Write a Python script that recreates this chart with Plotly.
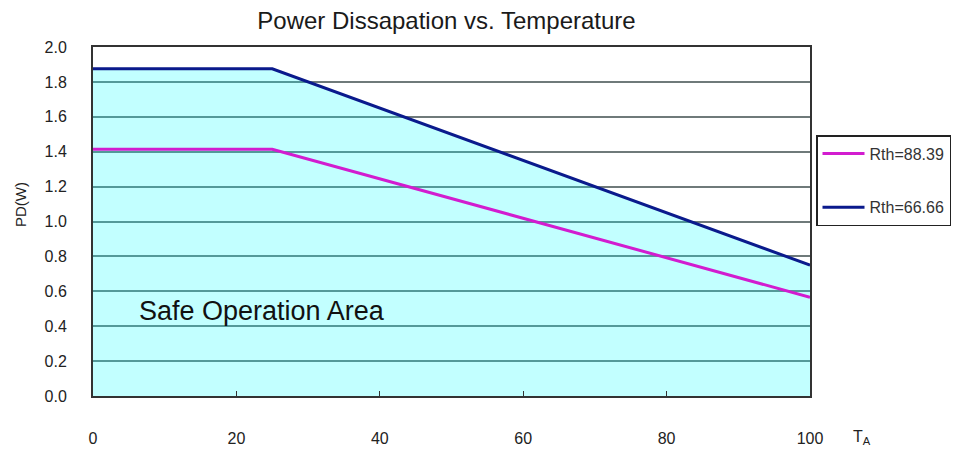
import plotly.graph_objects as go

temps = [0, 25, 100]
pd_rth_88 = [1.414, 1.414, 0.566]
pd_rth_66 = [1.875, 1.875, 0.75]
series_names = ["Rth=88.39", "Rth=66.66"]
y_ticks = [0.0, 0.2, 0.4, 0.6, 0.8, 1.0, 1.2, 1.4, 1.6, 1.8, 2.0]
x_ticks = [0, 20, 40, 60, 80, 100]

# page has an 8px body margin, so the figure is 966x448 placed at (8,8)
W, H = 966, 448
L, R, T, B = 85, 164, 39, 60
PW, PH = W - L - R, H - T - B

fig = go.Figure()
fig.add_trace(go.Scatter(x=temps, y=pd_rth_66, mode="none", fill="tozeroy",
                         fillcolor="rgba(0,255,255,0.24)", showlegend=False, hoverinfo="skip"))
fig.add_trace(go.Scatter(x=temps, y=pd_rth_88, mode="lines", name=series_names[0],
                         line=dict(color="#d21ccf", width=3), legendgroup="a"))
fig.add_trace(go.Scatter(x=temps, y=pd_rth_66, mode="lines", name=series_names[1],
                         line=dict(color="#0a1a8c", width=3), legendgroup="b"))

font = "Liberation Sans, Arial, sans-serif"
fig.update_layout(
    width=W, height=H,
    margin=dict(l=L, r=R, t=T, b=B, autoexpand=False),
    paper_bgcolor="white", plot_bgcolor="white",
    font=dict(family=font, color="#222", size=15),
    title=dict(text="Power Dissapation vs. Temperature", x=438.5 / W, xanchor="center",
               xref="container", yref="container", y=1 - 13 / H, yanchor="middle",
               font=dict(size=24, color="#1a1a1a"), automargin=False),
    legend=dict(x=1.0 + 6 / PW, xanchor="left", y=(H - B - 127) / PH, yanchor="top",
                bordercolor="#222", borderwidth=1.5, bgcolor="white",
                font=dict(size=16, color="#333"), tracegroupgap=30,
                itemwidth=42),
    xaxis=dict(range=[0, 100], tickvals=x_ticks, showgrid=False, zeroline=False,
               showline=True, linecolor="#333", linewidth=2, mirror=True,
               ticks="inside", ticklen=5, tickcolor="#333", tickfont=dict(size=16),
               ticklabelstandoff=27, automargin=False),
    yaxis=dict(range=[0, 2.0], tickvals=y_ticks, tickformat=".1f", showgrid=True,
               gridcolor="#6f7a7a", gridwidth=1.5, zeroline=False,
               showline=True, linecolor="#333", linewidth=2, mirror=True,
               ticks="", tickfont=dict(size=16), ticklabelstandoff=21, automargin=False),
    showlegend=True,
)
fig.add_annotation(text="PD(W)", x=(12 - L) / PW, y=(H - B - 197) / PH,
                   xref="paper", yref="paper", showarrow=False,
                   textangle=-90, xanchor="center", yanchor="middle",
                   font=dict(size=15, color="#222", family=font))
fig.add_annotation(text="Safe Operation Area", x=6.1, y=0.487, xref="x", yref="y",
                   xanchor="left", yanchor="middle", showarrow=False,
                   font=dict(size=27, color="#111", family=font))
fig.add_annotation(text="T<sub>A</sub>", x=(854 - L) / PW, y=-(429 - (H - B)) / PH,
                   xref="paper", yref="paper",
                   xanchor="center", yanchor="middle", showarrow=False,
                   font=dict(size=16, color="#222", family=font))

fig.write_html("out.html")
